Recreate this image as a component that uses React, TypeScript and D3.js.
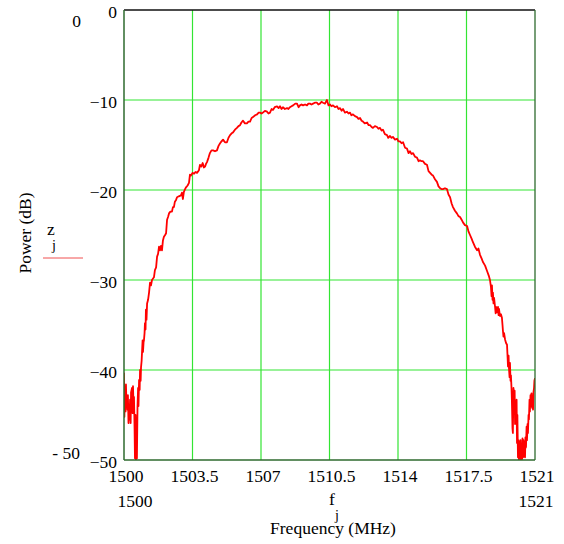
import * as d3 from 'd3'

// spectrum trace
const freqMHz = [
  1500.0, 1500.02, 1500.05, 1500.08, 1500.1, 1500.13, 1500.15, 1500.18, 1500.2, 1500.23,
  1500.26, 1500.28, 1500.31, 1500.34, 1500.36, 1500.41, 1500.44, 1500.46, 1500.49, 1500.51,
  1500.54, 1500.56, 1500.59, 1500.61, 1500.64, 1500.66, 1500.69, 1500.72, 1500.74, 1500.77,
  1500.8, 1500.82, 1500.85, 1500.87, 1500.9, 1500.92, 1500.95, 1500.97, 1501.0, 1501.02,
  1501.05, 1501.07, 1501.1, 1501.12, 1501.15, 1501.18, 1501.23, 1501.28, 1501.33, 1501.38,
  1501.43, 1501.53, 1501.58, 1501.64, 1501.69, 1501.74, 1501.79, 1501.84, 1501.89, 1501.94,
  1501.99, 1502.04, 1502.1, 1502.15, 1502.2, 1502.25, 1502.3, 1502.37, 1502.45, 1502.5,
  1502.55, 1502.6, 1502.66, 1502.71, 1502.8, 1502.91, 1502.96, 1503.01, 1503.06, 1503.12,
  1503.17, 1503.25, 1503.32, 1503.37, 1503.42, 1503.5, 1503.58, 1503.65, 1503.73, 1503.83,
  1503.88, 1503.95, 1504.02, 1504.08, 1504.14, 1504.19, 1504.24, 1504.32, 1504.39, 1504.47,
  1504.55, 1504.65, 1504.75, 1504.83, 1504.91, 1504.98, 1505.06, 1505.16, 1505.26, 1505.34,
  1505.42, 1505.5, 1505.57, 1505.67, 1505.77, 1505.85, 1505.93, 1506.0, 1506.08, 1506.18,
  1506.28, 1506.36, 1506.44, 1506.52, 1506.59, 1506.7, 1506.8, 1506.88, 1506.95, 1507.03,
  1507.1, 1507.2, 1507.31, 1507.38, 1507.46, 1507.54, 1507.61, 1507.7, 1507.82, 1507.9,
  1507.97, 1508.05, 1508.12, 1508.22, 1508.33, 1508.4, 1508.48, 1508.56, 1508.64, 1508.75,
  1508.84, 1508.92, 1508.99, 1509.07, 1509.15, 1509.25, 1509.35, 1509.42, 1509.5, 1509.58,
  1509.66, 1509.75, 1509.86, 1509.93, 1510.01, 1510.09, 1510.17, 1510.27, 1510.37, 1510.45,
  1510.53, 1510.6, 1510.68, 1510.78, 1510.88, 1510.96, 1511.04, 1511.12, 1511.19, 1511.29,
  1511.39, 1511.47, 1511.55, 1511.62, 1511.7, 1511.8, 1511.91, 1511.98, 1512.06, 1512.14,
  1512.21, 1512.3, 1512.42, 1512.5, 1512.57, 1512.65, 1512.72, 1512.82, 1512.93, 1513.0,
  1513.08, 1513.16, 1513.23, 1513.33, 1513.44, 1513.5, 1513.59, 1513.67, 1513.74, 1513.85,
  1513.95, 1514.02, 1514.1, 1514.18, 1514.26, 1514.36, 1514.46, 1514.54, 1514.61, 1514.69,
  1514.77, 1514.87, 1514.97, 1515.05, 1515.12, 1515.2, 1515.28, 1515.38, 1515.48, 1515.56,
  1515.64, 1515.72, 1515.79, 1515.89, 1515.99, 1516.07, 1516.15, 1516.22, 1516.3, 1516.4,
  1516.5, 1516.58, 1516.66, 1516.74, 1516.81, 1516.91, 1517.01, 1517.09, 1517.17, 1517.25,
  1517.32, 1517.42, 1517.53, 1517.6, 1517.68, 1517.76, 1517.83, 1517.93, 1518.04, 1518.11,
  1518.19, 1518.27, 1518.34, 1518.45, 1518.55, 1518.65, 1518.7, 1518.75, 1518.78, 1518.8,
  1518.83, 1518.85, 1518.88, 1518.91, 1518.96, 1518.99, 1519.01, 1519.06, 1519.11, 1519.14,
  1519.16, 1519.21, 1519.26, 1519.31, 1519.34, 1519.36, 1519.39, 1519.42, 1519.47, 1519.52,
  1519.57, 1519.6, 1519.62, 1519.65, 1519.67, 1519.7, 1519.72, 1519.75, 1519.77, 1519.8,
  1519.82, 1519.85, 1519.87, 1519.9, 1519.93, 1519.96, 1519.98, 1520.01, 1520.03, 1520.06,
  1520.08, 1520.1, 1520.13, 1520.16, 1520.18, 1520.21, 1520.23, 1520.26, 1520.28, 1520.31,
  1520.34, 1520.36, 1520.39, 1520.41, 1520.44, 1520.46, 1520.49, 1520.51, 1520.54, 1520.57,
  1520.59, 1520.62, 1520.64, 1520.67, 1520.69, 1520.72, 1520.74, 1520.77, 1520.79, 1520.82,
  1520.85, 1520.87, 1520.9, 1520.92, 1520.95, 1520.97, 1521.0,
]

const powerDb = [
  -40.3, -45.2, -42.0, -44.6, -41.6, -44.0, -43.0, -44.4, -42.8, -45.9,
  -44.0, -45.5, -43.3, -45.9, -42.5, -42.0, -44.8, -41.8, -44.2, -43.0,
  -46.5, -49.8, -45.0, -50.0, -46.0, -49.8, -44.1, -42.0, -44.0, -41.1,
  -42.2, -40.0, -41.2, -39.7, -39.0, -38.1, -36.7, -38.0, -36.9, -36.7,
  -35.9, -34.8, -35.5, -33.3, -34.4, -32.6, -32.2, -31.4, -30.3, -30.6,
  -30.0, -29.7, -28.9, -28.6, -27.4, -27.1, -26.3, -26.7, -26.2, -26.7,
  -25.6, -25.2, -25.0, -24.8, -23.3, -23.0, -22.6, -22.4, -22.4, -21.9,
  -21.9, -21.3, -21.1, -20.8, -20.7, -20.6, -20.3, -21.0, -20.2, -19.9,
  -19.7, -19.5, -19.2, -18.3, -18.4, -18.1, -18.2, -18.0, -18.1, -17.8,
  -17.2, -17.4, -17.0, -17.5, -17.4, -17.1, -16.9, -16.4, -15.9, -15.6,
  -15.6, -15.7, -15.6, -15.1, -14.8, -14.6, -14.4, -14.7, -14.7, -14.2,
  -13.9, -13.7, -13.6, -13.3, -13.1, -12.9, -12.8, -12.5, -12.3, -12.6,
  -12.6, -12.4, -12.4, -12.0, -11.9, -11.7, -11.6, -11.4, -11.4, -11.5,
  -11.4, -11.2, -11.3, -11.5, -11.4, -11.0, -11.1, -10.8, -10.7, -10.9,
  -10.7, -11.0, -10.8, -11.0, -10.9, -11.0, -10.8, -10.7, -10.6, -10.4,
  -10.4, -10.8, -10.6, -10.5, -10.6, -10.5, -10.6, -10.4, -10.4, -10.5,
  -10.4, -10.3, -10.3, -10.5, -10.4, -10.2, -10.3, -10.4, -10.0, -10.6,
  -10.5, -10.7, -10.6, -10.8, -10.7, -11.0, -10.9, -11.2, -11.0, -11.4,
  -11.3, -11.5, -11.4, -11.7, -11.6, -11.8, -11.9, -12.1, -12.0, -12.3,
  -12.4, -12.6, -12.5, -12.8, -12.8, -13.0, -13.1, -12.9, -13.0, -13.2,
  -13.1, -13.4, -13.3, -13.8, -13.9, -14.2, -14.0, -14.2, -14.1, -14.4,
  -14.3, -14.6, -14.6, -14.8, -14.7, -15.3, -15.4, -15.9, -15.7, -16.0,
  -15.9, -16.3, -16.4, -16.8, -16.7, -16.8, -16.8, -17.1, -17.2, -17.9,
  -18.1, -18.3, -18.4, -18.8, -19.1, -19.6, -19.8, -19.9, -19.9, -19.8,
  -19.9, -20.5, -20.8, -21.5, -21.9, -22.3, -22.6, -22.9, -23.0, -23.3,
  -23.6, -23.9, -24.0, -24.6, -25.0, -25.4, -25.8, -26.3, -26.7, -26.5,
  -27.2, -27.6, -28.0, -28.4, -29.0, -29.6, -30.0, -30.8, -31.8, -30.6,
  -32.2, -31.4, -32.6, -32.0, -33.0, -33.7, -33.0, -33.6, -33.0, -33.9,
  -33.2, -34.0, -33.8, -34.2, -35.0, -35.6, -36.3, -35.9, -36.6, -37.0,
  -37.2, -38.6, -39.6, -38.4, -39.8, -40.8, -39.2, -41.2, -40.6, -42.0,
  -43.5, -46.5, -47.0, -42.0, -44.0, -42.3, -46.0, -43.5, -45.5, -43.3,
  -48.1, -45.0, -49.7, -47.8, -50.0, -48.0, -49.8, -47.8, -50.0, -48.6,
  -49.9, -47.6, -49.7, -47.8, -49.6, -48.0, -49.7, -47.5, -48.6, -46.3,
  -47.8, -46.0, -47.0, -45.0, -45.5, -43.3, -44.6, -42.8, -44.0, -42.6,
  -44.2, -43.3, -44.4, -42.5, -42.0, -41.2, -40.9,
]

const xTicks = [1500, 1503.5, 1507, 1510.5, 1514, 1517.5, 1521]
const yTicks = [0, -10, -20, -30, -40, -50]

const fs = 17.5
const txt = { fontFamily: 'Liberation Serif', fontSize: fs, fill: '#000' }
const sub = { ...txt, fontSize: fs * 0.8 }

const fmtY = (v: number) => (v < 0 ? '\u2212' + Math.abs(v) : String(v))

export default function App() {
  const left = 124, right = 535, top = 10, bottom = 460

  const x = d3.scaleLinear().domain([1500, 1521]).range([left, right])
  const y = d3.scaleLinear().domain([-50, 0]).range([bottom, top])

  const pts = freqMHz.map((f, i) => [f, powerDb[i]] as [number, number])
  const line = d3
    .line<[number, number]>()
    .x((d) => x(d[0]))
    .y((d) => y(d[1]))

  return (
    <svg
      width={564}
      height={544}
      style={{ position: 'absolute', left: 0, top: 0, background: '#fff' }}
    >
      <defs>
        <clipPath id="plot">
          <rect x={left} y={top} width={right - left} height={bottom - top} />
        </clipPath>
      </defs>

      {/* grid */}
      {xTicks.slice(1, -1).map((t) => (
        <line key={'gx' + t} x1={x(t)} x2={x(t)} y1={top} y2={bottom} stroke="#33e533" strokeWidth={1.2} />
      ))}
      {yTicks.slice(1, -1).map((t) => (
        <line key={'gy' + t} x1={left} x2={right} y1={y(t)} y2={y(t)} stroke="#33e533" strokeWidth={1.2} />
      ))}

      {/* trace */}
      <path
        d={line(pts) || ''}
        fill="none"
        stroke="#ff0000"
        strokeWidth={1.8}
        strokeLinejoin="round"
        clipPath="url(#plot)"
      />

      {/* frame */}
      <line x1={left} x2={right} y1={top} y2={top} stroke="#111" strokeWidth={1.3} />
      <line x1={left} x2={left} y1={top} y2={bottom} stroke="#2e6a2e" strokeWidth={1.5} />
      <line x1={right} x2={right} y1={top} y2={bottom} stroke="#2e6a2e" strokeWidth={1.3} />
      <line x1={left} x2={right} y1={bottom} y2={bottom} stroke="#2e6a2e" strokeWidth={1.5} />

      {/* y tick labels */}
      {yTicks.map((t) => (
        <text key={'ty' + t} x={117} y={y(t) + 7.5} textAnchor="end" style={txt}>
          {fmtY(t)}
        </text>
      ))}

      {/* x tick labels */}
      {xTicks.map((t) => (
        <text key={'tx' + t} x={x(t) + 2} y={482} textAnchor="middle" style={txt}>
          {t}
        </text>
      ))}

      {/* axis limits */}
      <text x={81} y={27} textAnchor="end" style={txt}>0</text>
      <text x={80} y={459} textAnchor="end" style={txt}>- 50</text>
      <text x={135} y={507} textAnchor="middle" style={txt}>1500</text>
      <text x={536} y={507} textAnchor="middle" style={txt}>1521</text>

      {/* x axis label */}
      <text x={329} y={505} style={txt}>f</text>
      <text x={335} y={520} style={sub}>j</text>
      <text x={333} y={534} textAnchor="middle" style={txt}>Frequency (MHz)</text>

      {/* y axis label */}
      <text transform="translate(31,233) rotate(-90)" textAnchor="middle" style={txt}>Power (dB)</text>
      <text x={47} y={235} style={txt}>z</text>
      <text x={52} y={250} style={sub}>j</text>
      <line x1={43} x2={83} y1={258} y2={258} stroke="#f05050" strokeWidth={1} />
    </svg>
  )
}
